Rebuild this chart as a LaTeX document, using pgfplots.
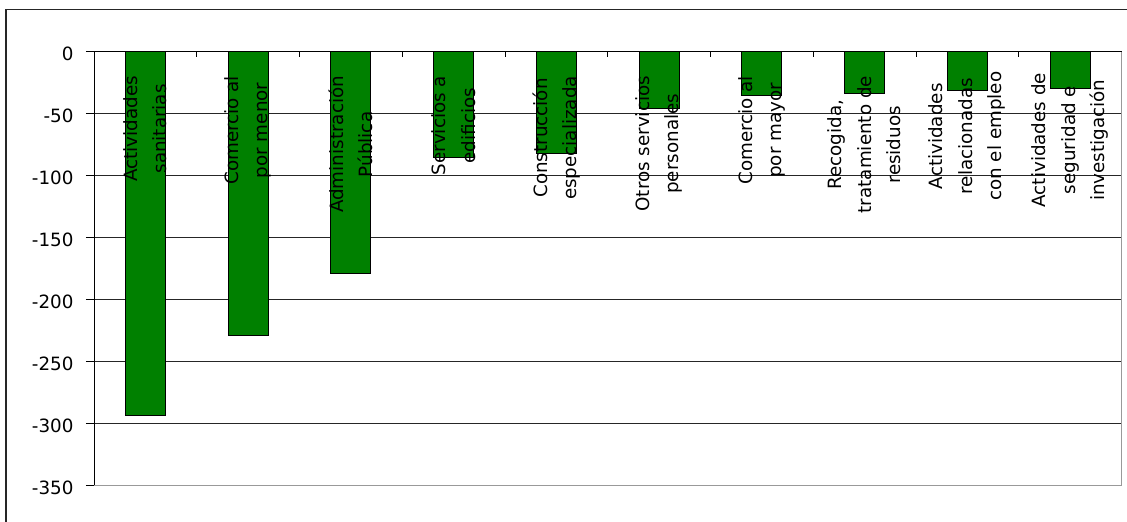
\documentclass[border=0pt]{standalone}
\usepackage{pgfplots}
\pgfplotsset{compat=1.18}
\usepackage{fontspec}
\setmainfont{DejaVu Sans}
\definecolor{barverde}{RGB}{0,128,0}
\begin{document}
\begin{tikzpicture}[x=1pt,y=1pt]
    \useasboundingbox (0,0) rectangle (1127,522);
    \draw[line width=1.3pt, black!85] (6,-30) rectangle (1160,512.5);
    \begin{axis}[
        at={(94pt,36.3pt)}, anchor=south west,
        scale only axis,
        width=1027.5pt, height=434pt,
        xmin=0.5, xmax=10.5,
        ymin=-350, ymax=0,
        axis x line*=top,
        axis y line*=left,
        axis line style={black, line width=0.9pt},
        xtick={1.5,2.5,...,9.5},
        xticklabels={},
        ytick={-350,-300,...,0},
        yticklabels={-350,-300,-250,-200,-150,-100,-50,0},
        xtick align=inside,
        ytick align=outside,
        major tick length=8pt,
        x tick style={black, line width=0.8pt, /pgfplots/major tick length=5pt},
        y tick style={black, line width=0.8pt},
        tick label style={font=\fontsize{18.3}{22}\selectfont},
        yticklabel style={xshift=-9pt, yshift=-2pt},
        ymajorgrids,
        grid style={black!85, line width=0.8pt},
        clip=false,
    ]
        \addplot[ybar, bar width=40pt, fill=barverde, draw=black, line width=1pt]
        coordinates {
            (1, -293)
            (2, -229)
            (3, -179)
            (4, -85)
            (5, -82)
            (6, -46)
            (7, -35)
            (8, -34)
            (9, -31)
            (10, -30)
        };
        \draw[gray!80, line width=1.6pt] (rel axis cs:0,0) -- (rel axis cs:1,0) -- (rel axis cs:1,1);
        % category names, rotated, just below the zero line
        \tikzset{lbl/.style={rotate=90, anchor=east, align=center, inner sep=0pt,
            font=\fontsize{18.3}{29.5}\selectfont}}
        \node[lbl] at (axis cs:1,-19.5) {Actividades\\sanitarias};
        \node[lbl] at (axis cs:2,-19.5) {Comercio al\\por menor};
        \node[lbl] at (axis cs:3,-19.5) {Administración\\Pública};
        \node[lbl] at (axis cs:4,-19.5) {Servicios a\\edificios};
        \node[lbl] at (axis cs:5,-19.5) {Construcción\\especializada};
        \node[lbl] at (axis cs:6,-19.5) {Otros servicios\\personales};
        \node[lbl] at (axis cs:7,-19.5) {Comercio al\\por mayor};
        \node[lbl] at (axis cs:8,-19.5) {Recogida,\\tratamiento de\\residuos};
        \node[lbl] at (axis cs:9,-16) {Actividades\\relacionadas\\con el empleo};
        \node[lbl] at (axis cs:10,-17) {Actividades de\\seguridad e\\investigación};
    \end{axis}
\end{tikzpicture}
\end{document}
